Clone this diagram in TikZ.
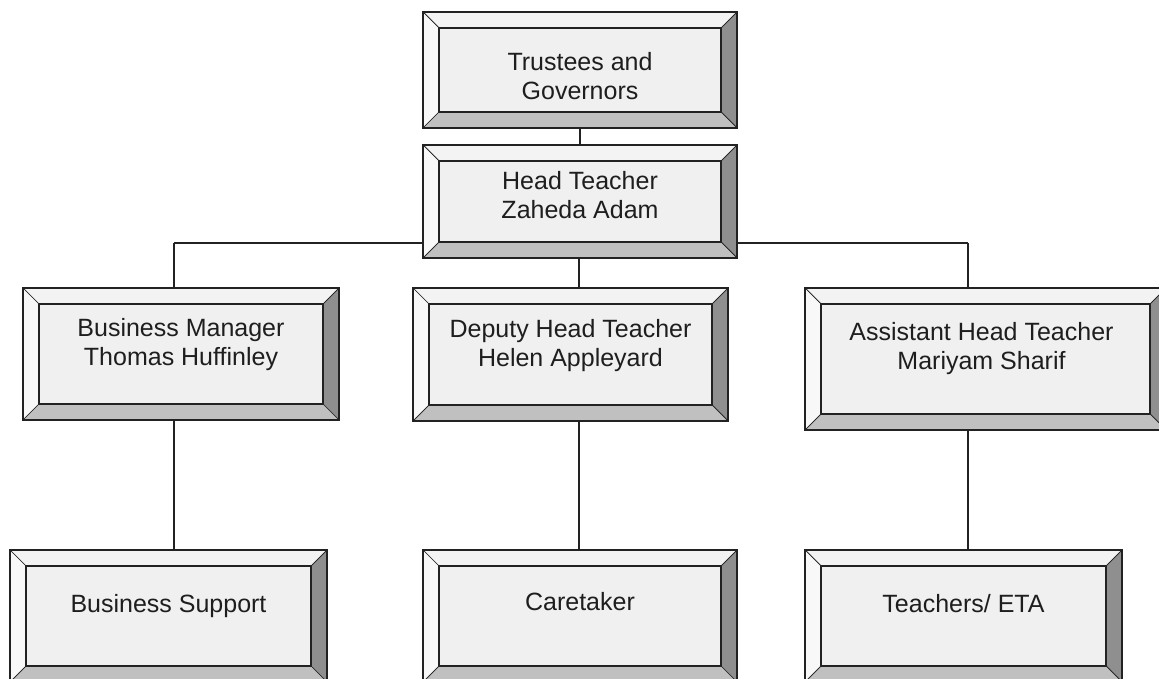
\documentclass[tikz,border=0pt]{standalone}
\usepackage{fontspec}
\setmainfont{Liberation Sans}
\usetikzlibrary{calc,backgrounds}

\definecolor{face}{HTML}{F0F0F0}
\definecolor{bevtop}{HTML}{F3F3F3}
\definecolor{bevleft}{HTML}{F8F8F8}
\definecolor{bevright}{HTML}{8F8F8F}
\definecolor{bevbottom}{HTML}{C0C0C0}
\definecolor{edge}{HTML}{222222}
\definecolor{ink}{HTML}{1E1E1E}

\tikzset{
	panel/.style={rectangle, draw=edge, line width=1.4pt, fill=face, inner sep=0pt,
		path picture={
			\path (path picture bounding box.north west) coordinate (pnw)
			      (path picture bounding box.south east) coordinate (pse);
			\path (pnw -| pse) coordinate (pne) (pse -| pnw) coordinate (psw);
			% bevel faces
			\filldraw [fill=bevtop, draw=edge, line width=.7pt] (pnw) -- (pne)
				-- ([shift={(-16pt,-16pt)}]pne) -- ([shift={(16pt,-16pt)}]pnw) -- cycle;
			\filldraw [fill=bevleft, draw=edge, line width=.7pt] (pnw) -- (psw)
				-- ([shift={(16pt,16pt)}]psw) -- ([shift={(16pt,-16pt)}]pnw) -- cycle;
			\filldraw [fill=bevright, draw=edge, line width=.7pt] (pne) -- (pse)
				-- ([shift={(-16pt,16pt)}]pse) -- ([shift={(-16pt,-16pt)}]pne) -- cycle;
			\filldraw [fill=bevbottom, draw=edge, line width=.7pt] (psw) -- (pse)
				-- ([shift={(-16pt,16pt)}]pse) -- ([shift={(16pt,16pt)}]psw) -- cycle;
			\draw [edge, line width=1.3pt] ([shift={(16pt,-16pt)}]pnw) rectangle ([shift={(-16pt,16pt)}]pse);
		}},
	caption/.style={anchor=north, align=center, inner sep=0pt, text=ink,
		font=\fontsize{25pt}{28.75pt}\selectfont},
	link/.style={draw=edge, line width=1.4pt}
}

\begin{document}
\begin{tikzpicture}[x=1pt, y=-1pt]
	\clip (0,0) rectangle (1159,679);
	\useasboundingbox (0,0) rectangle (1159,679);

	% Nodes {trustees, head, bm, deputy, assistant, bsupport, caretaker, teachers}
	\node [panel, minimum width=314pt, minimum height=116pt]	(trustees)	at (580,70)		{};
	\node [panel, minimum width=314pt, minimum height=113pt]	(head)		at (580,201.5)	{};
	\node [panel, minimum width=316pt, minimum height=132pt]	(bm)		at (181,354)	{};
	\node [panel, minimum width=315pt, minimum height=133pt]	(deputy)	at (570.5,354.5){};
	\node [panel, minimum width=361pt, minimum height=142pt]	(assistant)	at (985.5,359)	{};
	\node [panel, minimum width=317pt, minimum height=132pt]	(bsupport)	at (168.5,616)	{};
	\node [panel, minimum width=314pt, minimum height=132pt]	(caretaker)	at (580,616)	{};
	\node [panel, minimum width=317pt, minimum height=132pt]	(teachers)	at (963.5,616)	{};

	% Texts
	\node [caption]	(trustees-txt)	at ([yshift=-41pt]trustees.north)	{Trustees and\\Governors};
	\node [caption]	(head-txt)		at ([yshift=-27pt]head.north)		{Head Teacher\\Zaheda Adam};
	\node [caption]	(bm-txt)		at ([yshift=-31pt]bm.north)			{Business Manager\\Thomas Huffinley};
	\node [caption]	(deputy-txt)	at ([yshift=-32pt]deputy.north)		{Deputy Head Teacher\\Helen Appleyard};
	\node [caption]	(assistant-txt)	at ([shift={(-4pt,-35pt)}]assistant.north)	{Assistant Head Teacher\\Mariyam Sharif};
	\node [caption]	(bsupport-txt)	at ([yshift=-45pt]bsupport.north)	{Business Support};
	\node [caption]	(caretaker-txt)	at ([yshift=-43pt]caretaker.north)	{Caretaker};
	\node [caption]	(teachers-txt)	at ([yshift=-45pt]teachers.north)	{Teachers/ ETA};

	% Paths
	\coordinate (busL) at (174,243);
	\coordinate (busM) at (579,243);
	\coordinate (busR) at (968,243);
	\begin{scope}[on background layer]
		\path [link]	(trustees.south) -- (head.north);
		\path [link]	(busL) -- (busR);
		\path [link]	(busL) -- (busL |- bm.north);
		\path [link]	(busM) -- (busM |- deputy.north);
		\path [link]	(busR) -- (busR |- assistant.north);
		\path [link]	(busL |- bm.south) -- (busL |- bsupport.north);
		\path [link]	(busM |- deputy.south) -- (busM |- caretaker.north);
		\path [link]	(busR |- assistant.south) -- (busR |- teachers.north);
	\end{scope}
\end{tikzpicture}
\end{document}
